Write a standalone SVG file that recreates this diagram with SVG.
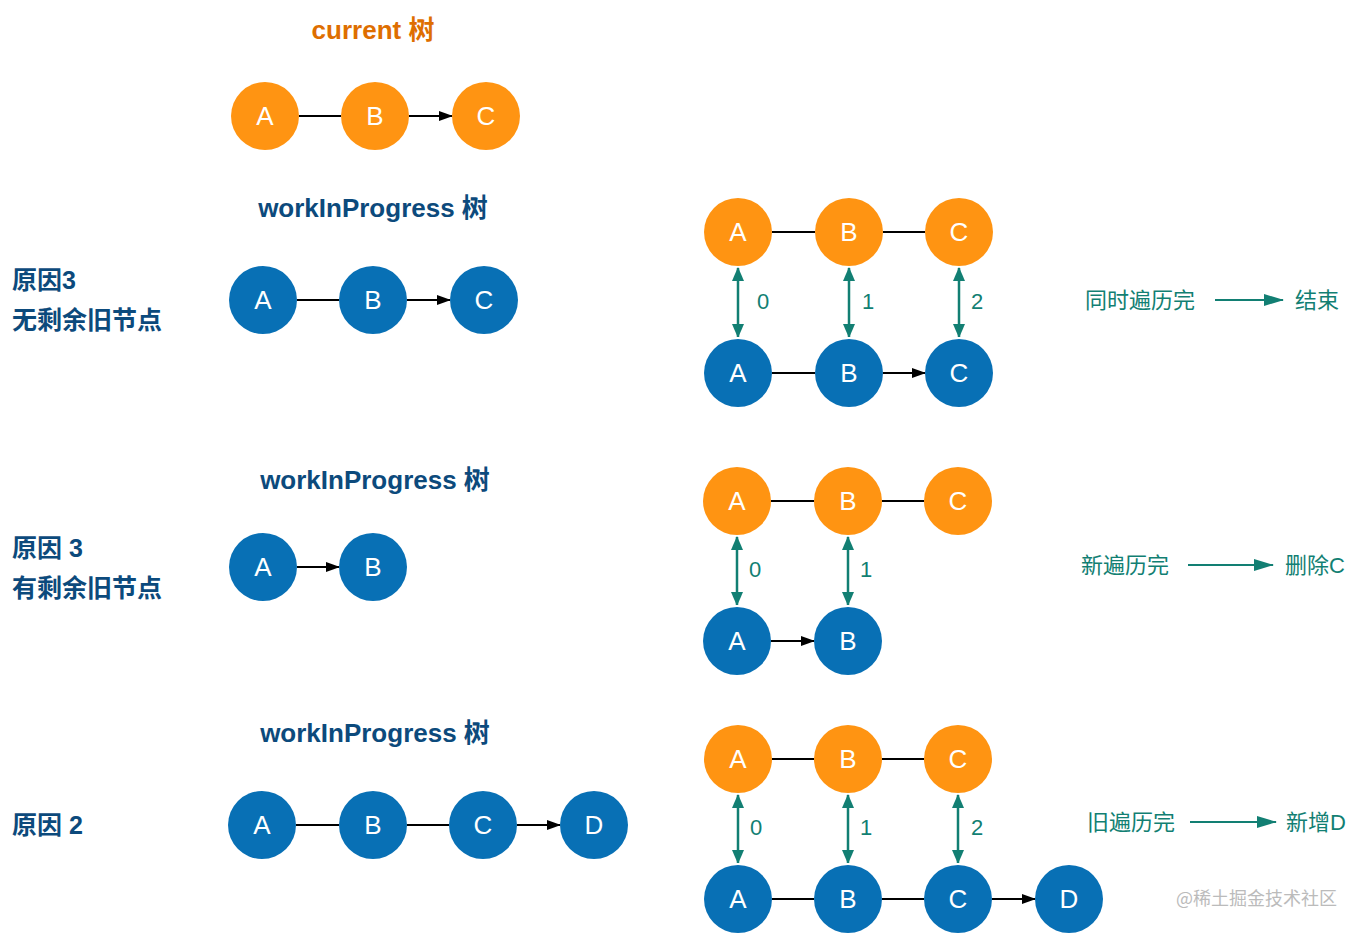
<svg xmlns="http://www.w3.org/2000/svg" width="1362" height="934" viewBox="0 0 1362 934">
<style>
.o{fill:#FF9412}.b{fill:#0870B5}
.n{font-family:"Liberation Sans",Arial,sans-serif;font-size:26px;fill:#fff;text-anchor:middle;dominant-baseline:central}
.t{font-family:"Liberation Sans","Noto Sans CJK SC",sans-serif;font-size:26px;font-weight:bold;fill:#0C4A7C;text-anchor:middle}
.l{font-family:"Liberation Sans","Noto Sans CJK SC",sans-serif;font-size:25px;font-weight:bold;fill:#0C4A7C}
.g{font-family:"Liberation Sans","Noto Sans CJK SC",sans-serif;font-size:22px;fill:#127F73}
.k{stroke:#000;stroke-width:2;fill:none;marker-end:url(#ab)}
.d{stroke:#127F73;stroke-width:2.5;fill:none;marker-end:url(#at);marker-start:url(#as)}
.e{stroke:#127F73;stroke-width:2;fill:none;marker-end:url(#at2)}
</style>
<defs>
<marker id="ab" markerWidth="14" markerHeight="10" refX="13" refY="5" orient="auto" markerUnits="userSpaceOnUse"><path d="M0,0L14,5L0,10z" fill="#000"/></marker>
<marker id="at" markerWidth="12" markerHeight="14" refX="13" refY="6" orient="auto" markerUnits="userSpaceOnUse"><path d="M0,0L14,6L0,12z" fill="#127F73"/></marker>
<marker id="as" markerWidth="14" markerHeight="12" refX="1" refY="6" orient="auto" markerUnits="userSpaceOnUse"><path d="M14,0L0,6L14,12z" fill="#127F73"/></marker>
<marker id="at2" markerWidth="20" markerHeight="12" refX="19" refY="6" orient="auto" markerUnits="userSpaceOnUse"><path d="M0,0L20,6L0,12z" fill="#127F73"/></marker>
</defs>
<rect width="1362" height="934" fill="#fff"/>
<g id="labels">
<text x="373" y="39" class="t" style="fill:#DE6E00">current 树</text>
<text x="373" y="217" class="t">workInProgress 树</text>
<text x="375" y="489" class="t">workInProgress 树</text>
<text x="375" y="742" class="t">workInProgress 树</text>
<text x="12" y="289" class="l">原因3</text>
<text x="12" y="329" class="l">无剩余旧节点</text>
<text x="12" y="557" class="l">原因 3</text>
<text x="12" y="597" class="l">有剩余旧节点</text>
<text x="12" y="834" class="l">原因 2</text>
<text x="1085" y="308" class="g">同时遍历完</text><text x="1295" y="308" class="g">结束</text>
<text x="1081" y="573" class="g">新遍历完</text><text x="1285" y="573" class="g">删除C</text>
<text x="1087" y="830" class="g">旧遍历完</text><text x="1286" y="830" class="g">新增D</text>
<text x="757" y="309" class="g">0</text><text x="862" y="309" class="g">1</text><text x="971" y="309" class="g">2</text>
<text x="749" y="577" class="g">0</text><text x="860" y="577" class="g">1</text>
<text x="750" y="835" class="g">0</text><text x="860" y="835" class="g">1</text><text x="971" y="835" class="g">2</text>
<text x="1176" y="905" style="font-family:'Noto Sans CJK SC',sans-serif;font-size:18px;fill:#bbb">@稀土掘金技术社区</text>
</g>
<g id="connectors">
<path class="k" d="M299,116H341M409,116H452"/>
<path class="k" d="M297,300H339M407,300H450"/>
<path class="k" d="M772,232H815M883,232H925M772,373H815M883,373H925"/>
<path class="k" d="M297,567H339"/>
<path class="k" d="M771,501H814M882,501H924M771,641H814"/>
<path class="k" d="M296,825H339M407,825H449M517,825H560"/>
<path class="k" d="M772,759H814M882,759H924M772,899H814M882,899H924M992,899H1035"/>
<path class="d" d="M738,268V337"/><path class="d" d="M849,268V337"/><path class="d" d="M959,268V337"/>
<path class="d" d="M737,537V605"/><path class="d" d="M848,537V605"/>
<path class="d" d="M738,795V863"/><path class="d" d="M848,795V863"/><path class="d" d="M958,795V863"/>
<path class="e" d="M1215,300H1283"/><path class="e" d="M1188,565H1273"/><path class="e" d="M1190,822H1276"/>
</g>
<g id="nodes">
<g id="c1"><circle cx="265" cy="116" r="34" class="o"/><text x="265" y="116" class="n">A</text></g>
<g id="c2"><circle cx="375" cy="116" r="34" class="o"/><text x="375" y="116" class="n">B</text></g>
<g id="c3"><circle cx="486" cy="116" r="34" class="o"/><text x="486" y="116" class="n">C</text></g>
<g id="w1a"><circle cx="263" cy="300" r="34" class="b"/><text x="263" y="300" class="n">A</text></g>
<g id="w1b"><circle cx="373" cy="300" r="34" class="b"/><text x="373" y="300" class="n">B</text></g>
<g id="w1c"><circle cx="484" cy="300" r="34" class="b"/><text x="484" y="300" class="n">C</text></g>
<g id="r1a"><circle cx="738" cy="232" r="34" class="o"/><text x="738" y="232" class="n">A</text></g>
<g id="r1b"><circle cx="849" cy="232" r="34" class="o"/><text x="849" y="232" class="n">B</text></g>
<g id="r1c"><circle cx="959" cy="232" r="34" class="o"/><text x="959" y="232" class="n">C</text></g>
<g id="s1a"><circle cx="738" cy="373" r="34" class="b"/><text x="738" y="373" class="n">A</text></g>
<g id="s1b"><circle cx="849" cy="373" r="34" class="b"/><text x="849" y="373" class="n">B</text></g>
<g id="s1c"><circle cx="959" cy="373" r="34" class="b"/><text x="959" y="373" class="n">C</text></g>
<g id="w2a"><circle cx="263" cy="567" r="34" class="b"/><text x="263" y="567" class="n">A</text></g>
<g id="w2b"><circle cx="373" cy="567" r="34" class="b"/><text x="373" y="567" class="n">B</text></g>
<g id="r2a"><circle cx="737" cy="501" r="34" class="o"/><text x="737" y="501" class="n">A</text></g>
<g id="r2b"><circle cx="848" cy="501" r="34" class="o"/><text x="848" y="501" class="n">B</text></g>
<g id="r2c"><circle cx="958" cy="501" r="34" class="o"/><text x="958" y="501" class="n">C</text></g>
<g id="s2a"><circle cx="737" cy="641" r="34" class="b"/><text x="737" y="641" class="n">A</text></g>
<g id="s2b"><circle cx="848" cy="641" r="34" class="b"/><text x="848" y="641" class="n">B</text></g>
<g id="w3a"><circle cx="262" cy="825" r="34" class="b"/><text x="262" y="825" class="n">A</text></g>
<g id="w3b"><circle cx="373" cy="825" r="34" class="b"/><text x="373" y="825" class="n">B</text></g>
<g id="w3c"><circle cx="483" cy="825" r="34" class="b"/><text x="483" y="825" class="n">C</text></g>
<g id="w3d"><circle cx="594" cy="825" r="34" class="b"/><text x="594" y="825" class="n">D</text></g>
<g id="r3a"><circle cx="738" cy="759" r="34" class="o"/><text x="738" y="759" class="n">A</text></g>
<g id="r3b"><circle cx="848" cy="759" r="34" class="o"/><text x="848" y="759" class="n">B</text></g>
<g id="r3c"><circle cx="958" cy="759" r="34" class="o"/><text x="958" y="759" class="n">C</text></g>
<g id="s3a"><circle cx="738" cy="899" r="34" class="b"/><text x="738" y="899" class="n">A</text></g>
<g id="s3b"><circle cx="848" cy="899" r="34" class="b"/><text x="848" y="899" class="n">B</text></g>
<g id="s3c"><circle cx="958" cy="899" r="34" class="b"/><text x="958" y="899" class="n">C</text></g>
<g id="s3d"><circle cx="1069" cy="899" r="34" class="b"/><text x="1069" y="899" class="n">D</text></g>
</g>
</svg>
